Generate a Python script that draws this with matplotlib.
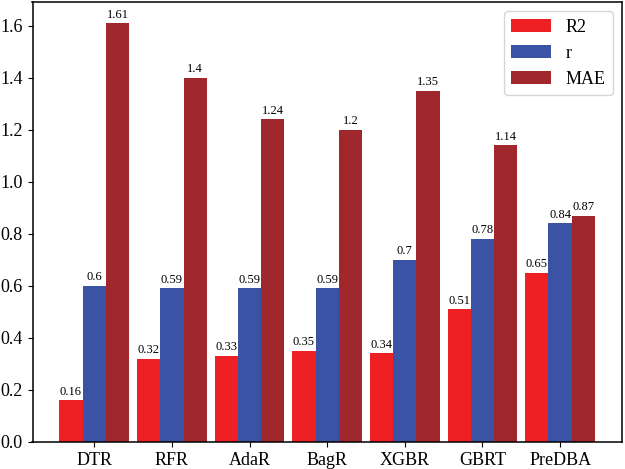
import numpy as np
import matplotlib
matplotlib.use("Agg")
import matplotlib.pyplot as plt

plt.rcParams['font.family'] = ['Liberation Serif', 'DejaVu Serif']

models = ["DTR", "RFR", "AdaR", "BagR", "XGBR", "GBRT", "PreDBA"]
r2 = [0.16, 0.32, 0.33, 0.35, 0.34, 0.51, 0.65]
r = [0.6, 0.59, 0.59, 0.59, 0.7, 0.78, 0.84]
mae = [1.61, 1.4, 1.24, 1.2, 1.35, 1.14, 0.87]

series = [("R2", r2, "#ee2024"), ("r", r, "#3a53a4"), ("MAE", mae, "#a0282c")]

fig, ax = plt.subplots(figsize=(6.25, 4.69), dpi=100)
x = np.arange(len(models))
w = 0.3
for i, (name, vals, col) in enumerate(series):
    bars = ax.bar(x + (i - 1) * w, vals, w, color=col, label=name)
    for b, v in zip(bars, vals):
        ax.text(b.get_x() + b.get_width() / 2, v + 0.01, f"{v:g}",
                ha="center", va="bottom", fontsize=9)

ax.set_xticks(x)
ax.set_xticklabels(models, fontsize=13)
ax.tick_params(axis="y", labelsize=13)
for s in ax.spines.values():
    s.set_linewidth(1.1)
ax.legend(fontsize=13, loc="upper right", handlelength=2.2)

fig.subplots_adjust(left=0.052, right=0.995, top=0.995, bottom=0.058)
fig.savefig("out.png", dpi=100)
